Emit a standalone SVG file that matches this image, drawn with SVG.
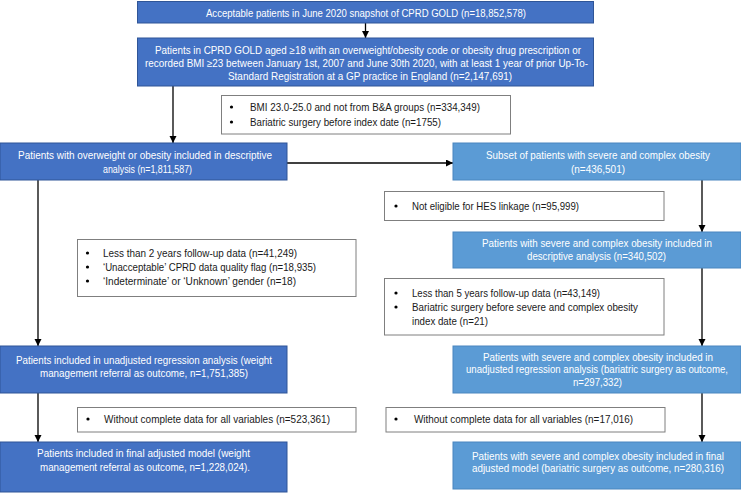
<svg xmlns="http://www.w3.org/2000/svg" width="741" height="493" viewBox="0 0 741 493">
<style>
.dk{fill:#4472C4;stroke:#2F5597;stroke-width:1}
.lt{fill:#5B9BD5;stroke:#4A86BF;stroke-width:1}
.ex{fill:#FFFFFF;stroke:#7F7F7F;stroke-width:1}
text{font-family:"Liberation Sans",Arial,sans-serif;font-size:10.5px}
.w{fill:#FFFFFF;text-anchor:middle}
.b{fill:#1A1A1A}
.c{stroke:#000;stroke-width:1.3;fill:none;marker-end:url(#ah)}
</style>
<defs>
<marker id="ah" markerUnits="userSpaceOnUse" markerWidth="8" markerHeight="8" refX="7" refY="3.5" orient="auto">
<path d="M0,0 L7,3.5 L0,7 Z" fill="#000"/>
</marker>
</defs>
<g id="connectors">
<line class="c" x1="365.5" y1="23" x2="365.5" y2="38"/>
<line class="c" x1="173" y1="86" x2="173" y2="143"/>
<line class="c" x1="287" y1="163" x2="453" y2="163"/>
<line class="c" x1="702" y1="180" x2="702" y2="232"/>
<line class="c" x1="702" y1="268" x2="702" y2="346"/>
<line class="c" x1="38" y1="180" x2="38" y2="346"/>
<line class="c" x1="38" y1="393" x2="38" y2="442"/>
<line class="c" x1="702" y1="393" x2="702" y2="442"/>
</g>
<g id="n1">
<rect class="dk" x="137.5" y="1.5" width="456" height="21.5"/>
<text class="w" x="366" y="16.5" textLength="320" lengthAdjust="spacingAndGlyphs">Acceptable patients in June 2020 snapshot of CPRD GOLD (n=18,852,578)</text>
</g>
<g id="n2">
<rect class="dk" x="137.5" y="38" width="456" height="48"/>
<text class="w" x="368" y="53.7" textLength="426" lengthAdjust="spacingAndGlyphs">Patients in CPRD GOLD aged ≥18 with an overweight/obesity code or obesity drug prescription or</text>
<text class="w" x="366.5" y="66.7" textLength="443" lengthAdjust="spacingAndGlyphs">recorded BMI ≥23 between January 1st, 2007 and June 30th 2020, with at least 1 year of prior Up-To-</text>
<text class="w" x="370" y="79.7" textLength="284" lengthAdjust="spacingAndGlyphs">Standard Registration at a GP practice in England (n=2,147,691)</text>
</g>
<g id="exA">
<rect class="ex" x="221.5" y="95.5" width="289" height="38.5"/>
<circle cx="231.5" cy="107" r="1.6" fill="#000"/>
<circle cx="231.5" cy="122" r="1.6" fill="#000"/>
<text class="b" x="250" y="110.7" textLength="230" lengthAdjust="spacingAndGlyphs">BMI 23.0-25.0 and not from B&amp;A groups (n=334,349)</text>
<text class="b" x="250" y="125.7" textLength="191" lengthAdjust="spacingAndGlyphs">Bariatric surgery before index date (n=1755)</text>
</g>
<g id="n3">
<rect class="dk" x="0" y="143" width="287" height="37"/>
<text class="w" x="145" y="158.7" textLength="254" lengthAdjust="spacingAndGlyphs">Patients with overweight or obesity included in descriptive</text>
<text class="w" x="147.5" y="172.7" textLength="89" lengthAdjust="spacingAndGlyphs">analysis (n=1,811,587)</text>
</g>
<g id="r1">
<rect class="lt" x="453" y="143" width="288" height="37"/>
<text class="w" x="598" y="158.7" textLength="224" lengthAdjust="spacingAndGlyphs">Subset of patients with severe and complex obesity</text>
<text class="w" x="598" y="172.7" textLength="54" lengthAdjust="spacingAndGlyphs">(n=436,501)</text>
</g>
<g id="exB">
<rect class="ex" x="384.5" y="191.5" width="279.5" height="29"/>
<circle cx="396" cy="206" r="1.6" fill="#000"/>
<text class="b" x="412" y="209.7" textLength="167" lengthAdjust="spacingAndGlyphs">Not eligible for HES linkage (n=95,999)</text>
</g>
<g id="r2">
<rect class="lt" x="453" y="232" width="288" height="36"/>
<text class="w" x="597" y="246.7" textLength="230" lengthAdjust="spacingAndGlyphs">Patients with severe and complex obesity included in</text>
<text class="w" x="596.5" y="259.7" textLength="139" lengthAdjust="spacingAndGlyphs">descriptive analysis (n=340,502)</text>
</g>
<g id="exD">
<rect class="ex" x="77.5" y="239.5" width="278.5" height="57"/>
<circle cx="87.5" cy="253" r="1.6" fill="#000"/>
<circle cx="87.5" cy="267" r="1.6" fill="#000"/>
<circle cx="87.5" cy="281" r="1.6" fill="#000"/>
<text class="b" x="103" y="256.7" textLength="194" lengthAdjust="spacingAndGlyphs">Less than 2 years follow-up data (n=41,249)</text>
<text class="b" x="103" y="270.7" textLength="213" lengthAdjust="spacingAndGlyphs">‘Unacceptable’ CPRD data quality flag (n=18,935)</text>
<text class="b" x="103" y="284.7" textLength="193" lengthAdjust="spacingAndGlyphs">‘Indeterminate’ or ‘Unknown’ gender (n=18)</text>
</g>
<g id="exC">
<rect class="ex" x="384.5" y="278.5" width="279.5" height="56.5"/>
<circle cx="396" cy="293" r="1.6" fill="#000"/>
<circle cx="396" cy="307" r="1.6" fill="#000"/>
<text class="b" x="412" y="296.7" textLength="188" lengthAdjust="spacingAndGlyphs">Less than 5 years follow-up data (n=43,149)</text>
<text class="b" x="412" y="310.7" textLength="226" lengthAdjust="spacingAndGlyphs">Bariatric surgery before severe and complex obesity</text>
<text class="b" x="412" y="324.7" textLength="76" lengthAdjust="spacingAndGlyphs">index date (n=21)</text>
</g>
<g id="l2">
<rect class="dk" x="0" y="346" width="287" height="47"/>
<text class="w" x="144" y="363.7" textLength="256" lengthAdjust="spacingAndGlyphs">Patients included in unadjusted regression analysis (weight</text>
<text class="w" x="144" y="377.2" textLength="208" lengthAdjust="spacingAndGlyphs">management referral as outcome, n=1,751,385)</text>
</g>
<g id="r3">
<rect class="lt" x="453" y="346" width="288" height="47"/>
<text class="w" x="598" y="360.7" textLength="230" lengthAdjust="spacingAndGlyphs">Patients with severe and complex obesity included in</text>
<text class="w" x="597" y="373.2" font-size="9.5" textLength="262" lengthAdjust="spacingAndGlyphs">unadjusted regression analysis (bariatric surgery as outcome,</text>
<text class="w" x="597.5" y="385.7" textLength="49" lengthAdjust="spacingAndGlyphs">n=297,332)</text>
</g>
<g id="exE">
<rect class="ex" x="77.5" y="407.5" width="278.5" height="24.5"/>
<circle cx="88" cy="419" r="1.6" fill="#000"/>
<text class="b" x="104" y="422.7" textLength="226" lengthAdjust="spacingAndGlyphs">Without complete data for all variables (n=523,361)</text>
</g>
<g id="exF">
<rect class="ex" x="386" y="407.5" width="279" height="24.5"/>
<circle cx="396" cy="419" r="1.6" fill="#000"/>
<text class="b" x="414" y="422.7" textLength="219" lengthAdjust="spacingAndGlyphs">Without complete data for all variables (n=17,016)</text>
</g>
<g id="l3">
<rect class="dk" x="0" y="442" width="287" height="50"/>
<text class="w" x="143.5" y="456.7" textLength="213" lengthAdjust="spacingAndGlyphs">Patients included in final adjusted model (weight</text>
<text class="w" x="145" y="470.7" textLength="210" lengthAdjust="spacingAndGlyphs">management referral as outcome, n=1,228,024).</text>
</g>
<g id="r4">
<rect class="lt" x="453" y="442" width="288" height="47"/>
<text class="w" x="598" y="459.7" textLength="252" lengthAdjust="spacingAndGlyphs">Patients with severe and complex obesity included in final</text>
<text class="w" x="598" y="471.7" textLength="252" lengthAdjust="spacingAndGlyphs">adjusted model (bariatric surgery as outcome, n=280,316)</text>
</g>
</svg>
